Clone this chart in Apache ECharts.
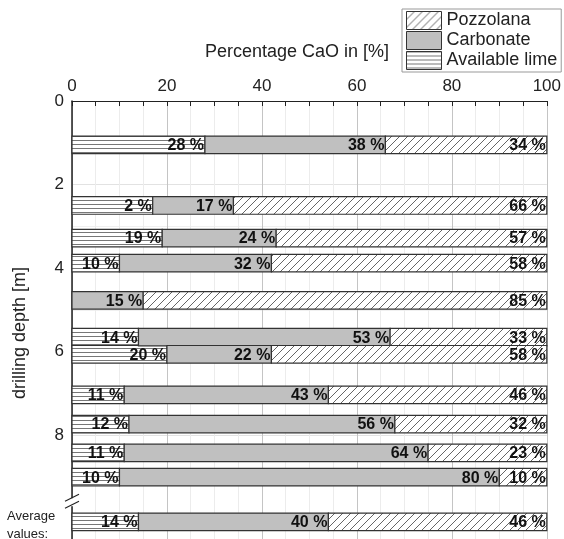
<!DOCTYPE html>
<html><head><meta charset="utf-8">
<script src="https://cdn.jsdelivr.net/npm/echarts@6/dist/echarts.min.js"></script>
<style>html,body{margin:0;padding:0;background:#fff}#c{width:564px;height:539px}</style>
</head><body><div id="c"></div>
<script>
// drilling depth [m] of each bar (last = average values row)
const depths = [1.05, 2.5, 3.28, 3.88, 4.77, 5.65, 6.06, 7.03, 7.73, 8.42, 9.0, 10.07];
// drawn widths in %
const lime = [28, 17, 19, 10, 0, 14, 20, 11, 12, 11, 10, 14];
const carbonate = [38, 17, 24, 32, 15, 53, 22, 43, 56, 64, 80, 40];
const pozzolana = [34, 66, 57, 58, 85, 33, 58, 46, 32, 25, 10, 46];
// printed labels
const limeLabels = [28, 2, 19, 10, 0, 14, 20, 11, 12, 11, 10, 14];
const carbonateLabels = [38, 17, 24, 32, 15, 53, 22, 43, 56, 64, 80, 40];
const pozzolanaLabels = [34, 66, 57, 58, 85, 33, 58, 46, 32, 23, 10, 46];
const xTicks = [0, 20, 40, 60, 80, 100];
const yTicks = [0, 2, 4, 6, 8];

function makePattern(kind) {
  const c = document.createElement('canvas');
  if (kind === 'hatch') {
    c.width = 8; c.height = 8;
    const g = c.getContext('2d');
    g.fillStyle = '#fff'; g.fillRect(0, 0, 8, 8);
    g.strokeStyle = '#555'; g.lineWidth = 0.9;
    g.beginPath();
    g.moveTo(-1, 9); g.lineTo(9, -1);
    g.moveTo(-1, 1); g.lineTo(1, -1);
    g.moveTo(7, 9); g.lineTo(9, 7);
    g.stroke();
  } else {
    c.width = 4; c.height = 4;
    const g = c.getContext('2d');
    g.fillStyle = '#fff'; g.fillRect(0, 0, 4, 4);
    g.fillStyle = '#777'; g.fillRect(0, 0, 4, 1);
  }
  return { image: c, repeat: 'repeat' };
}
const hatchFill = makePattern('hatch');
const stripeFill = makePattern('stripe');
const carbFill = '#c0c0c0';
const barH = 0.42;

function buildData(vals, labels, offsets) {
  return vals.map((v, i) => {
    let s = 0;
    for (const o of offsets) s += o[i];
    return [s, s + v, depths[i], labels[i]];
  });
}

function renderer(fill) {
  return function (params, api) {
    const s = api.value(0), e = api.value(1), d = api.value(2), lab = api.value(3);
    if (e - s <= 0) return;
    const p0 = api.coord([s, d]);
    const p1 = api.coord([e, d]);
    const h = api.size([0, barH])[1];
    return {
      type: 'group',
      children: [
        { type: 'rect', shape: { x: p0[0], y: p0[1] - h / 2, width: p1[0] - p0[0], height: h },
          style: { fill: fill, stroke: '#333', lineWidth: 1.2 } },
        { type: 'text', x: p1[0] - 1, y: p1[1] + 1, z2: 10,
          style: { text: lab + ' %', align: 'right', verticalAlign: 'middle',
                   font: 'bold 16px "Liberation Sans", Arial, sans-serif', fill: '#111' } }
      ]
    };
  };
}

const chart = echarts.init(document.getElementById('c'), null, { renderer: 'canvas' });
const font = '"Liberation Sans", Arial, sans-serif';
chart.setOption({
  animation: false,
  grid: { left: 72, right: 14, top: 101, bottom: 0, containLabel: false },
  legend: {
    orient: 'vertical', left: 402, top: 9, itemWidth: 35, itemHeight: 18, itemGap: 1,
    padding: [2, 4, 2, 4], borderColor: '#999', borderWidth: 1,
    textStyle: { fontFamily: font, fontSize: 18, color: '#222' },
    icon: 'rect',
    data: [
      { name: 'Pozzolana', itemStyle: { color: hatchFill, borderColor: '#333', borderWidth: 1 } },
      { name: 'Carbonate', itemStyle: { color: carbFill, borderColor: '#333', borderWidth: 1 } },
      { name: 'Available lime', itemStyle: { color: stripeFill, borderColor: '#333', borderWidth: 1 } }
    ]
  },
  xAxis: {
    type: 'value', position: 'top', min: 0, max: 100, interval: 20,
    axisLine: { show: true, lineStyle: { color: '#222', width: 1.2 } },
    axisTick: { show: true, inside: true, length: 5, lineStyle: { color: '#222' } },
    minorTick: { show: true, splitNumber: 4, length: 5, lineStyle: { color: '#222' } },
    axisLabel: { fontFamily: font, fontSize: 17, color: '#222', margin: 6,
      formatter: v => xTicks.includes(v) ? String(v) : '' },
    splitLine: { show: true, lineStyle: { color: '#c4c4c4', width: 1 } },
    minorSplitLine: { show: true, lineStyle: { color: '#ececec', width: 1 } }
  },
  yAxis: {
    type: 'value', inverse: true, min: 0, max: 10.48, interval: 2,
    axisLine: { show: true, onZero: false, lineStyle: { color: '#222', width: 1.5 } },
    axisTick: { show: false },
    axisLabel: { fontFamily: font, fontSize: 17, color: '#222', margin: 8,
      formatter: v => yTicks.includes(v) ? String(v) : '' },
    splitLine: { show: true, lineStyle: { color: '#e2e2e2', width: 1 } },
    minorTick: { show: false, splitNumber: 2 },
    minorSplitLine: { show: true, lineStyle: { color: '#f0f0f0', width: 1 } }
  },
  series: [
    { name: 'Available lime', type: 'custom', itemStyle: { color: stripeFill },
      renderItem: renderer(stripeFill), encode: { x: [0, 1], y: 2 },
      data: buildData(lime, limeLabels, []) },
    { name: 'Carbonate', type: 'custom', itemStyle: { color: carbFill },
      renderItem: renderer(carbFill), encode: { x: [0, 1], y: 2 },
      data: buildData(carbonate, carbonateLabels, [lime]) },
    { name: 'Pozzolana', type: 'custom', itemStyle: { color: hatchFill },
      renderItem: renderer(hatchFill), encode: { x: [0, 1], y: 2 },
      data: buildData(pozzolana, pozzolanaLabels, [lime, carbonate]) }
  ]
});

// axis break mark, titles and "Average values:" label
const b = chart.convertToPixel({ gridIndex: 0 }, [0, 9.6]);
chart.setOption({
  graphic: [
    { type: 'text', x: 297, y: 52, style: { text: 'Percentage CaO in [%]', font: '18px ' + font, fill: '#222', align: 'center', verticalAlign: 'middle' } },
    { type: 'text', x: 20, y: 333, rotation: Math.PI / 2, style: { text: 'drilling depth [m]', font: '18px ' + font, fill: '#222', align: 'center', verticalAlign: 'middle' } },
    { type: 'rect', shape: { x: b[0] - 3, y: b[1] - 4, width: 6, height: 8 }, style: { fill: '#fff' }, z: 50 },
    { type: 'line', shape: { x1: b[0] - 7, y1: b[1] - 1, x2: b[0] + 7, y2: b[1] - 8 }, style: { stroke: '#222', lineWidth: 1.2 }, z: 51 },
    { type: 'line', shape: { x1: b[0] - 7, y1: b[1] + 6, x2: b[0] + 7, y2: b[1] - 1 }, style: { stroke: '#222', lineWidth: 1.2 }, z: 51 },
    { type: 'text', left: 7, top: 507, style: { text: 'Average\nvalues:', font: '13px ' + font, fill: '#222', lineHeight: 18 } }
  ]
});
</script></body></html>
